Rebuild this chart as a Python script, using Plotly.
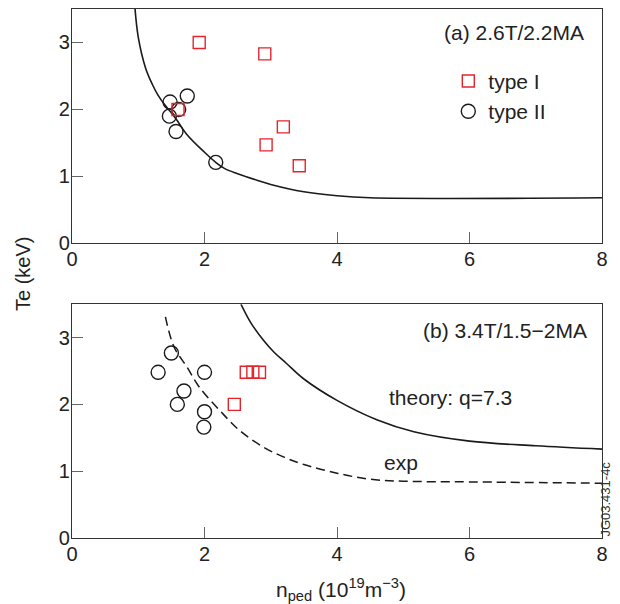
import plotly.graph_objects as go

# ---------------- data ----------------
# panel (a) 2.6T/2.2MA
a_type1_x = [1.92, 2.91, 1.60, 3.19, 2.93, 3.43]
a_type1_y = [3.00, 2.83, 2.00, 1.74, 1.47, 1.16]
a_type2_x = [1.48, 1.74, 1.47, 1.61, 1.57, 2.17]
a_type2_y = [2.11, 2.20, 1.90, 2.00, 1.67, 1.21]
a_theory_x = [0.95, 1.00, 1.11, 1.21, 1.30, 1.40, 1.49, 1.59, 1.73, 2.00, 2.17, 2.30, 2.50, 2.80, 3.00, 3.50, 4.00, 4.50, 8.00]
a_theory_y = [3.52, 3.08, 2.62, 2.38, 2.21, 2.07, 1.96, 1.83, 1.63, 1.36, 1.21, 1.12, 1.04, 0.94, 0.88, 0.77, 0.71, 0.68, 0.68]

# panel (b) 3.4T/1.5-2MA
b_type1_x = [2.45, 2.63, 2.73, 2.83]
b_type1_y = [2.00, 2.48, 2.48, 2.48]
b_type2_x = [1.30, 1.50, 1.69, 1.59, 2.00, 2.00, 1.99]
b_type2_y = [2.48, 2.77, 2.20, 2.00, 2.48, 1.89, 1.66]
b_theory_x = [2.55, 2.70, 2.89, 3.05, 3.23, 3.50, 4.00, 4.60, 5.16, 6.00, 7.00, 8.00]
b_theory_y = [3.50, 3.22, 2.96, 2.78, 2.62, 2.38, 2.06, 1.77, 1.59, 1.45, 1.38, 1.33]
b_exp_x = [1.41, 1.54, 1.735, 1.92, 2.23, 2.53, 2.89, 3.20, 3.50, 4.00, 4.50, 5.00, 6.00, 8.00]
b_exp_y = [3.31, 2.86, 2.56, 2.26, 1.91, 1.61, 1.36, 1.21, 1.10, 0.97, 0.88, 0.85, 0.84, 0.82]

x_ticks = [0, 2, 4, 6, 8]
y_ticks = [0, 1, 2, 3]

# ---------------- styles ----------------
FONT = "Liberation Sans, Arial, Helvetica, sans-serif"
RED = "#e3242b"
BLK = "#1a1a1a"
TXT = "#222"
sq = dict(symbol="square-open", size=12, color=RED, line=dict(width=1.4, color=RED))
ci = dict(symbol="circle-open", size=14, color=BLK, line=dict(width=1.4, color=BLK))

fig = go.Figure()
# panel a
fig.add_trace(go.Scatter(x=a_theory_x, y=a_theory_y, mode="lines", line=dict(color=BLK, width=1.6, shape="spline"),
                         showlegend=False, xaxis="x", yaxis="y"))
fig.add_trace(go.Scatter(x=a_type2_x, y=a_type2_y, mode="markers", marker=ci, name="type II",
                         legendrank=2, xaxis="x", yaxis="y"))
fig.add_trace(go.Scatter(x=a_type1_x, y=a_type1_y, mode="markers", marker=sq, name="type I",
                         legendrank=1, xaxis="x", yaxis="y"))
# panel b
fig.add_trace(go.Scatter(x=b_theory_x, y=b_theory_y, mode="lines", line=dict(color=BLK, width=1.6, shape="spline"),
                         showlegend=False, xaxis="x2", yaxis="y2"))
fig.add_trace(go.Scatter(x=b_exp_x, y=b_exp_y, mode="lines", line=dict(color=BLK, width=1.5, dash="9px,5px", shape="spline"),
                         showlegend=False, xaxis="x2", yaxis="y2"))
fig.add_trace(go.Scatter(x=b_type2_x, y=b_type2_y, mode="markers", marker=ci, showlegend=False,
                         xaxis="x2", yaxis="y2"))
fig.add_trace(go.Scatter(x=b_type1_x, y=b_type1_y, mode="markers", marker=sq, showlegend=False,
                         xaxis="x2", yaxis="y2"))

ax_common = dict(range=[0, 8], tickvals=x_ticks, ticks="inside", ticklen=11, tickwidth=1.2, tickcolor="#666",
                 showline=True, linecolor="#333", linewidth=1.3, mirror=True, showgrid=False, zeroline=False,
                 ticklabelstandoff=-2,
                 tickfont=dict(size=20, color=TXT, family=FONT))
ay_common = dict(range=[0, 3.5], tickvals=y_ticks, ticks="inside", ticklen=11, tickwidth=1.2, tickcolor="#666",
                 showline=True, linecolor="#333", linewidth=1.3, mirror=True, showgrid=False, zeroline=False,
                 ticklabelstandoff=-3,
                 tickfont=dict(size=20, color=TXT, family=FONT))

# the page body adds an 8px offset, so margins are shifted by 8px
fig.update_layout(
    width=620, height=604,
    margin=dict(l=64, r=26, t=1, b=74, autoexpand=False),
    paper_bgcolor="white", plot_bgcolor="white",
    font=dict(family=FONT, color=TXT),
    xaxis=dict(**ax_common, domain=[0, 1], anchor="y"),
    yaxis=dict(**ay_common, domain=[0.557, 1], anchor="x"),
    xaxis2=dict(**ax_common, domain=[0, 1], anchor="y2"),
    yaxis2=dict(**ay_common, domain=[0, 0.442], anchor="x2"),
    legend=dict(x=0.71, y=0.902, xanchor="left", yanchor="top", bgcolor="rgba(0,0,0,0)",
                font=dict(size=21, color=TXT, family=FONT), tracegroupgap=0, itemwidth=30),
    annotations=[
        dict(text="(a) 2.6T/2.2MA", x=7.76, y=3.145, xref="x", yref="y", xanchor="right", yanchor="middle",
             showarrow=False, font=dict(size=21, color=TXT)),
        dict(text="(b) 3.4T/1.5\u22122MA", x=7.81, y=3.11, xref="x2", yref="y2", xanchor="right", yanchor="middle",
             showarrow=False, font=dict(size=21, color=TXT)),
        dict(text="theory: q=7.3", x=4.75, y=2.11, xref="x2", yref="y2", xanchor="left", yanchor="middle",
             showarrow=False, font=dict(size=21, color=TXT)),
        dict(text="exp", x=4.68, y=1.13, xref="x2", yref="y2", xanchor="left", yanchor="middle",
             showarrow=False, font=dict(size=21, color=TXT)),
        dict(text="JG03.431-4c", x=1.007, y=0.074, xref="paper", yref="paper", xanchor="center", yanchor="middle",
             textangle=-90, showarrow=False, font=dict(size=13, color="#333")),
        dict(text="Te (keV)", x=-0.0925, y=0.499, xref="paper", yref="paper", xanchor="center", yanchor="middle",
             textangle=-90, showarrow=False, font=dict(size=20, color=TXT)),
        dict(text="n<sub>ped</sub> (10<sup>19</sup>m<sup>\u22123</sup>)", x=0.5075, y=-0.098, xref="paper", yref="paper",
             xanchor="center", yanchor="middle", showarrow=False, font=dict(size=21, color=TXT)),
    ],
)

fig.write_html("out.html")
